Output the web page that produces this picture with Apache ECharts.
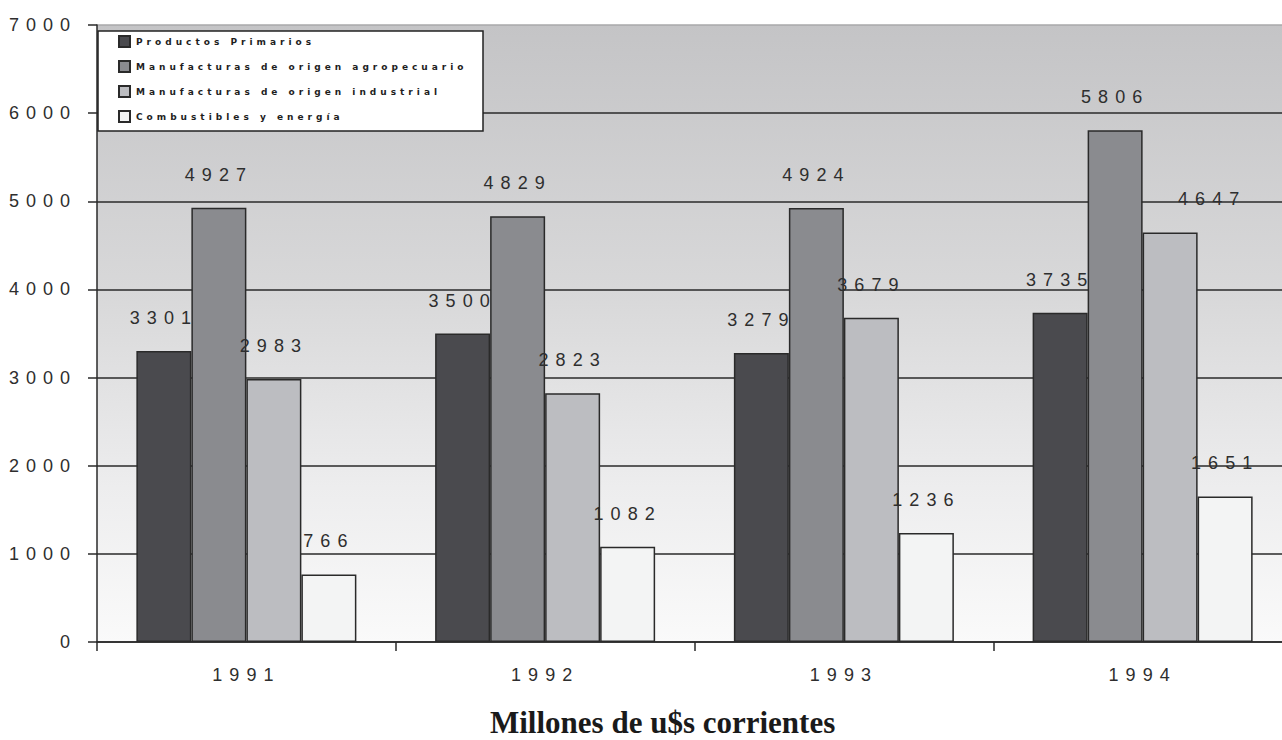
<!DOCTYPE html>
<html>
<head>
<meta charset="utf-8">
<title>Exportaciones por grandes rubros 1991-1994</title>
<script src="https://cdn.jsdelivr.net/npm/echarts@6/dist/echarts.min.js"></script>
<style>
  html, body { margin: 0; padding: 0; background: #ffffff; }
  #chart { width: 1282px; height: 740px; }
  /* wide tracking for the numeric labels and the legend */
  #chart text[style*="Liberation Sans"] { letter-spacing: 7px; }
  #chart text[style*="DejaVu Sans"] { letter-spacing: 4px; }
</style>
</head>
<body>
<div id="chart"></div>
<script>
// Exportaciones por grandes rubros, millones de u$s corrientes
const years = ['1991', '1992', '1993', '1994'];
const rubros = [
  'Productos Primarios',
  'Manufacturas de origen agropecuario',
  'Manufacturas de origen industrial',
  'Combustibles y energía'
];
const productosPrimarios = [3301, 3500, 3279, 3735];
const manufacturasAgro = [4927, 4829, 4924, 5806];
const manufacturasIndustriales = [2983, 2823, 3679, 4647];
const combustibles = [766, 1082, 1236, 1651];
const yTicks = [0, 1000, 2000, 3000, 4000, 5000, 6000, 7000];

const seriesValues = [productosPrimarios, manufacturasAgro, manufacturasIndustriales, combustibles];
const barColors = ['#4a4a4e', '#8a8b8f', '#bcbdc1', '#f3f4f4'];

const numFont = 'Liberation Sans';
const numColor = '#2e2e2e';

const chart = echarts.init(document.getElementById('chart'), null, { renderer: 'svg' });

const series = seriesValues.map((vals, s) => ({
  name: rubros[s],
  type: 'bar',
  barWidth: 55,
  barGap: '0%',
  itemStyle: { color: barColors[s], borderColor: '#2a2a2a', borderWidth: 1.5 },
  label: {
    show: true,
    position: 'top',
    distance: 24,
    fontFamily: numFont,
    fontSize: 18,
    color: numColor
  },
  data: vals.map((v, i) => {
    // the 1994 industrial label sits to the right of its bar
    if (s === 2 && i === 3) {
      return { value: v, label: { offset: [42, 0] } };
    }
    return v;
  })
}));

chart.setOption({
  animation: false,
  backgroundColor: '#ffffff',
  title: {
    text: 'Millones de u$s corrientes',
    left: 490,
    top: 707,
    padding: 0,
    textStyle: {
      fontFamily: 'Liberation Serif',
      fontWeight: 'bold',
      fontSize: 31,
      color: '#1a1a1a'
    }
  },
  grid: {
    left: 97,
    top: 25,
    width: 1195,
    height: 617,
    outerBoundsMode: 'none',
    show: true,
    borderWidth: 0,
    backgroundColor: new echarts.graphic.LinearGradient(0, 0, 0, 1, [
      { offset: 0, color: '#c4c4c6' },
      { offset: 0.45, color: '#d9d9da' },
      { offset: 0.75, color: '#ededee' },
      { offset: 1, color: '#fafafa' }
    ])
  },
  graphic: [{
    type: 'rect',
    z: 3,
    shape: { x: 98, y: 31, width: 385, height: 100 },
    style: { fill: '#ffffff', stroke: '#222222', lineWidth: 1.5 }
  }],
  legend: {
    orient: 'vertical',
    left: 118,
    top: 35,
    padding: 0,
    z: 4,
    itemWidth: 11,
    itemHeight: 11,
    itemGap: 12,
    icon: 'rect',
    data: rubros,
    textStyle: {
      fontFamily: 'DejaVu Sans',
      fontSize: 9,
      fontWeight: 'bold',
      color: '#1e1e1e',
      padding: [0, 0, 0, 1]
    }
  },
  xAxis: {
    type: 'category',
    data: years,
    axisLine: { lineStyle: { color: '#2a2a2a', width: 1.5 } },
    axisTick: { show: true, length: 9, lineStyle: { color: '#2a2a2a', width: 1.5 } },
    axisLabel: {
      margin: 24,
      fontFamily: numFont,
      fontSize: 18,
      color: numColor
    }
  },
  yAxis: {
    type: 'value',
    min: 0,
    max: 7000,
    interval: 1000,
    axisLine: { show: true, lineStyle: { color: '#2a2a2a', width: 1.5 } },
    axisTick: { show: true, length: 9, lineStyle: { color: '#2a2a2a', width: 1.5 } },
    splitLine: {
      show: true,
      lineStyle: {
        color: yTicks.map(t => (t === 7000 ? '#a8a8aa' : '#2a2a2a')),
        width: 1.5
      }
    },
    axisLabel: {
      margin: 20,
      padding: [0, 0, 8, 0],
      fontFamily: numFont,
      fontSize: 18,
      color: numColor,
      formatter: v => String(v)
    }
  },
  series: series
});
</script>
</body>
</html>
